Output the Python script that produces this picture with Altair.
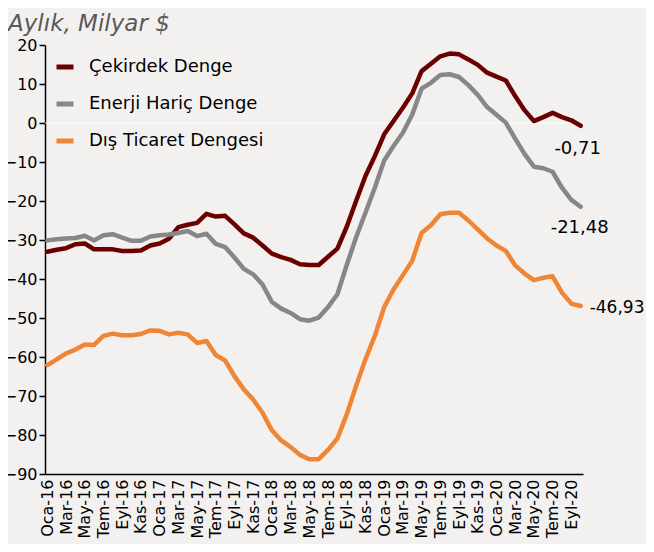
import altair as alt
import pandas as pd

ay = ["Oca", "Şub", "Mar", "Nis", "May", "Haz", "Tem", "Ağu", "Eyl", "Eki", "Kas", "Ara"]
years = ["16", "17", "18", "19", "20"]
months = [f"{m}-{y}" for y in years for m in ay][:58]
tick_months = months[::2]

series_names = ["Çekirdek Denge", "Enerji Hariç Denge", "Dış Ticaret Dengesi"]
series_colors = ["#6B0000", "#878787", "#F08535"]

cekirdek = [-33.0, -32.5, -32.1, -31.1, -30.9, -32.4, -32.4, -32.4, -32.8, -32.8,
            -32.7, -31.4, -30.9, -29.7, -26.7, -26.1, -25.6, -23.3, -24.0, -23.8,
            -26.0, -28.3, -29.4, -31.4, -33.5, -34.4, -35.1, -36.2, -36.4, -36.4,
            -34.3, -32.2, -26.6, -20.0, -13.6, -8.5, -2.9, 0.5, 3.9, 7.6,
            13.3, 15.2, 17.1, 17.8, 17.6, 16.3, 14.9, 12.9, 11.9, 10.9,
            6.9, 3.3, 0.5, 1.5, 2.6, 1.5, 0.7, -0.71]
enerji = [-30.1, -29.8, -29.6, -29.5, -28.9, -30.1, -28.8, -28.5, -29.4, -30.2,
          -30.2, -29.1, -28.8, -28.6, -28.2, -27.7, -29.0, -28.4, -31.0, -31.8,
          -34.5, -37.4, -38.8, -41.4, -45.9, -47.6, -48.7, -50.3, -50.7, -49.9,
          -47.2, -43.9, -36.4, -29.3, -23.0, -16.6, -9.6, -5.9, -2.5, 2.2,
          8.8, 10.3, 12.3, 12.5, 11.8, 9.7, 7.2, 4.1, 2.1, 0.1,
          -4.0, -7.9, -11.2, -11.6, -12.5, -16.6, -19.7, -21.48]
dis = [-62.1, -60.6, -59.1, -58.1, -56.8, -56.9, -54.6, -54.0, -54.4, -54.4,
       -54.1, -53.2, -53.3, -54.2, -53.8, -54.2, -56.4, -55.9, -59.5, -60.9,
       -64.9, -68.3, -70.9, -74.3, -78.8, -81.4, -83.1, -85.1, -86.2, -86.2,
       -83.8, -80.9, -74.7, -67.4, -60.6, -54.6, -47.2, -42.7, -39.0, -35.3,
       -28.2, -26.2, -23.4, -23.0, -23.0, -25.0, -27.3, -29.6, -31.4, -32.8,
       -36.5, -38.6, -40.3, -39.7, -39.3, -43.5, -46.3, -46.93]

end_labels = ["-0,71", "-21,48", "-46,93"]

rows = []
for name, vals in zip(series_names, [cekirdek, enerji, dis]):
    for m, v in zip(months, vals):
        rows.append({"month": m, "series": name, "value": v})
df = pd.DataFrame(rows)

last = pd.DataFrame({
    "month": [months[-1]] * 3,
    "series": series_names,
    "value": [cekirdek[-1], enerji[-1], dis[-1]],
    "label": end_labels,
})

FONT = "DejaVu Sans"
x_scale = alt.Scale(type="point", padding=0.25, domain=months)
y_scale = alt.Scale(domain=[-90, 20], nice=False, zero=False)

x_axis = alt.Axis(
    title=None, values=tick_months, labelAngle=270, ticks=False,
    labelFontSize=16, labelFont=FONT, labelColor="black", labelPadding=5,
    domainColor="black", domainWidth=1.5, labelOverlap=False, grid=False,
)
y_axis = alt.Axis(
    title=None, values=list(range(-90, 21, 10)), tickSize=6, tickWidth=1.5,
    tickColor="black", domainColor="black", domainWidth=1.5,
    labelFontSize=16, labelFont=FONT, labelColor="black", labelPadding=2,
    labelOverlap=False, labelBound=False, labelFlush=False, grid=False,
)

zero = alt.Chart(pd.DataFrame({"z": [0]})).mark_rule(
    color="white", strokeWidth=1.2, opacity=0.8
).encode(y=alt.Y("z:Q", scale=y_scale, axis=y_axis))

lines = alt.Chart(df).mark_line(
    strokeWidth=4.5, strokeCap="round", strokeJoin="round"
).encode(
    x=alt.X("month:N", sort=months, scale=x_scale, axis=x_axis),
    y=alt.Y("value:Q", scale=y_scale, axis=y_axis),
    color=alt.Color(
        "series:N",
        scale=alt.Scale(domain=series_names, range=series_colors),
        legend=alt.Legend(
            title=None, orient="none", legendX=9, legendY=11,
            symbolType="stroke", symbolSize=289, symbolStrokeWidth=5,
            labelFontSize=18, labelFont=FONT, labelColor="black",
            labelOffset=13, rowPadding=16, padding=0, labelLimit=400,
        ),
    ),
    detail="series:N",
)

def end_text(i, dx, dy, align, size):
    return alt.Chart(last.iloc[[i]]).mark_text(
        dx=dx, dy=dy, align=align, baseline="middle",
        fontSize=size, font=FONT, color="black",
    ).encode(
        x=alt.X("month:N", sort=months, scale=x_scale, axis=x_axis),
        y=alt.Y("value:Q", scale=y_scale, axis=y_axis),
        text="label:N",
    )

t1 = end_text(0, -3, 23, "center", 18)
t2 = end_text(1, -1, 21, "center", 18)
t3 = end_text(2, 9, 2, "left", 17)

chart = alt.layer(zero, lines, t1, t2, t3).properties(
    width=538,
    height=429,
    padding={"left": 37, "top": 37, "right": 63, "bottom": 70},
    autosize=alt.AutoSizeParams(type="none"),
    background="#F3F1F0",
    title=alt.TitleParams(
        "Aylık, Milyar $", anchor="start", frame="group", fontStyle="italic",
        font=FONT, fontSize=23, fontWeight="normal", color="#595959",
        dx=-37, dy=25, offset=8, baseline="alphabetic",
    ),
).configure_view(stroke=None)

chart.save("out.html", embed_options={"renderer": "svg", "actions": False})
